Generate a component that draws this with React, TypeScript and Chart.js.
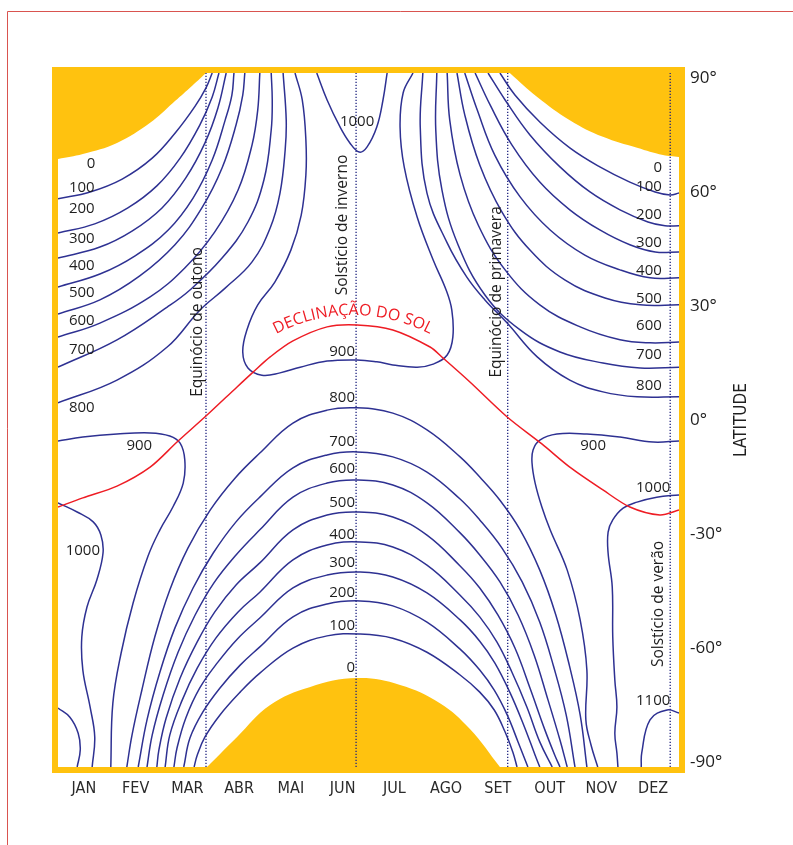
import React, { useEffect, useRef } from "react";
import { Chart, registerables } from "chart.js";

Chart.register(...registerables);

// ---------- axes ----------
const MONTHS = ["JAN", "FEV", "MAR", "ABR", "MAI", "JUN", "JUL", "AGO", "SET", "OUT", "NOV", "DEZ"];
const LAT_TICKS = [-90, -60, -30, 0, 30, 60, 90];
const X_MIN = 0;
const X_MAX = 12;
const Y_MIN = -91.3;
const Y_MAX = 91.3;

// ---------- solstices / equinoxes (x in months) ----------
const EVENT_X = [2.86, 5.76, 8.69, 11.83];
const EVENT_LABELS: [string, number, number][] = [
  ["Equinócio de outono", 2.69, 25.8],
  ["Solstício de inverno", 5.49, 51.3],
  ["Equinócio de primavera", 8.48, 33.7],
  ["Solstício de verão", 11.61, -48.4],
];

// ---------- polar night (0 isoline) ----------
const NIGHT_NW = [[0, 68.7], [0.48, 70.0], [1.14, 72.9], [1.78, 78.2], [2.22, 83.4], [2.55, 87.4], [2.86, 91.3]];
const NIGHT_NE = [[8.73, 91.3], [9.26, 85.0], [9.89, 78.9], [10.53, 74.5], [11.19, 71.6], [11.69, 69.7], [12, 69.2]];
const NIGHT_S = [[2.88, -91.3], [3.46, -83.4], [4.1, -75.0], [4.86, -70.3], [5.78, -67.9], [6.61, -69.7], [7.38, -74.5], [7.96, -81.3], [8.54, -91.3]];

// ---------- isolines, north, Jan-Mar ----------
const N_L100 = [[0, 58.2], [0.62, 60.0], [1.24, 63.4], [1.82, 68.9], [2.28, 75.8], [2.65, 82.6], [2.86, 87.4], [2.98, 91.3]];
const N_L200 = [[0, 49.2], [0.71, 51.6], [1.35, 55.8], [1.91, 61.6], [2.36, 68.9], [2.74, 77.6], [2.98, 85.0], [3.11, 91.3]];
const N_L300 = [[0, 42.6], [0.81, 45.5], [1.43, 49.7], [2.01, 55.8], [2.47, 63.7], [2.84, 72.9], [3.09, 82.1], [3.25, 91.3]];
const N_L400 = [[0, 35.0], [0.81, 38.4], [1.49, 43.2], [2.13, 50.0], [2.61, 58.4], [2.98, 68.4], [3.23, 78.9], [3.36, 85.5], [3.4, 91.3]];
const N_L500 = [[0, 27.9], [0.81, 31.6], [1.58, 37.9], [2.26, 46.1], [2.78, 55.8], [3.17, 66.3], [3.44, 77.6], [3.57, 85.5], [3.61, 91.3]];
const N_L600 = [[0, 21.8], [0.81, 25.5], [1.78, 32.4], [2.45, 40.0], [3.03, 49.5], [3.48, 60.5], [3.75, 72.4], [3.86, 81.6], [3.9, 91.3]];
const N_L700 = [[0, 13.9], [1.14, 21.1], [2.11, 29.7], [2.55, 34.2], [3.17, 42.6], [3.67, 52.1], [3.98, 63.2], [4.12, 76.3], [4.14, 84.2], [4.12, 91.3]];
const N_L800 = [[0, 4.5], [1.14, 10.5], [2.11, 19.2], [2.74, 28.9], [3.23, 34.7], [3.75, 41.6], [4.1, 50.5], [4.29, 59.7], [4.39, 71.1], [4.41, 78.9], [4.35, 91.3]];

// ---------- isolines, north summer ----------
const N_900 = [[4.58, 91.3], [4.72, 84.2], [4.79, 73.7], [4.79, 64.5], [4.7, 53.9], [4.5, 44.7], [4.19, 36.3], [3.86, 30.3], [3.65, 23.7], [3.57, 17.9], [3.67, 13.7], [3.94, 11.8], [4.29, 12.4], [4.68, 13.9], [5.2, 15.5], [5.78, 15.8], [6.16, 15.3], [6.47, 14.5], [6.94, 13.9], [7.25, 14.7], [7.52, 17.1], [7.63, 21.8], [7.61, 28.9], [7.5, 34.2], [7.25, 42.1], [6.94, 53.4], [6.69, 66.6], [6.61, 77.1], [6.67, 86.1], [6.86, 91.3]];
const N_1000 = [[5.0, 91.3], [5.2, 84.2], [5.45, 77.1], [5.64, 72.9], [5.82, 70.5], [5.97, 71.8], [6.16, 77.1], [6.28, 84.2], [6.36, 91.3]];

// ---------- isolines, north, Jul-Dec ----------
const N_R800 = [[7.05, 91.3], [7.0, 77.1], [7.13, 59.7], [7.52, 46.6], [7.9, 37.6], [8.25, 31.6], [8.68, 25.5], [9.26, 16.6], [9.89, 10.5], [10.53, 7.4], [11.19, 6.1], [12, 6.1]];
const N_R700 = [[7.32, 91.3], [7.3, 76.3], [7.42, 60.5], [7.73, 46.1], [8.25, 32.9], [8.93, 23.7], [9.7, 17.9], [10.53, 15.0], [11.25, 13.7], [12, 13.9]];
const N_R600 = [[7.52, 91.3], [7.57, 78.9], [7.77, 64.5], [8.12, 51.3], [8.64, 39.5], [9.31, 30.3], [10.09, 24.5], [10.86, 21.1], [11.44, 20.3], [12, 20.5]];
const N_R500 = [[7.71, 91.3], [7.86, 80.3], [8.15, 67.1], [8.58, 54.7], [9.12, 44.7], [9.8, 36.8], [10.57, 32.1], [11.25, 30.3], [12, 30.3]];
const N_R400 = [[7.86, 91.3], [8.1, 81.6], [8.44, 69.7], [8.93, 58.7], [9.51, 50.0], [10.18, 43.4], [10.86, 39.5], [11.44, 37.4], [12, 37.4]];
const N_R300 = [[8.06, 91.3], [8.35, 82.9], [8.77, 72.4], [9.31, 62.6], [9.89, 55.3], [10.47, 50.0], [11.05, 46.1], [11.54, 44.2], [12, 44.2]];
const N_R200 = [[8.31, 91.3], [8.64, 84.2], [9.12, 75.0], [9.7, 66.6], [10.28, 60.0], [10.86, 55.3], [11.4, 52.1], [11.73, 51.1], [12, 51.1]];
const N_R100 = [[8.54, 91.3], [8.83, 85.5], [9.31, 78.4], [9.89, 71.6], [10.47, 66.6], [11.05, 62.6], [11.54, 60.0], [11.83, 59.2], [12, 59.7]];

// ---------- isolines, tropics and south ----------
const W_900 = [[0, -5.5], [0.48, -4.5], [1.14, -3.7], [1.78, -3.4], [2.16, -4.2], [2.36, -6.1], [2.45, -10.5], [2.42, -16.6], [2.22, -22.9], [1.97, -28.9], [1.74, -35.8], [1.45, -48.2], [1.22, -61.3], [1.06, -74.5], [1.02, -91.3]];
const E_900 = [[12, -5.5], [11.5, -5.8], [10.86, -4.5], [10.22, -3.7], [9.64, -3.7], [9.31, -5.3], [9.18, -7.9], [9.16, -11.3], [9.22, -16.6], [9.35, -22.9], [9.51, -28.9], [9.84, -39.5], [10.09, -52.6], [10.22, -65.8], [10.2, -78.9], [10.3, -85.5], [10.43, -91.3]];
const W_1000 = [[0, -21.8], [0.37, -24.2], [0.68, -26.8], [0.83, -30.3], [0.87, -35.0], [0.75, -42.1], [0.56, -49.2], [0.46, -57.1], [0.48, -65.8], [0.62, -75.5], [0.71, -83.4], [0.66, -91.3]];
const E_1000 = [[12, -19.7], [11.57, -20.3], [11.19, -21.6], [10.92, -23.2], [10.72, -26.3], [10.63, -29.5], [10.63, -35.0], [10.71, -43.9], [10.72, -57.1], [10.76, -68.4], [10.8, -75.5], [10.76, -82.4], [10.8, -87.6], [10.82, -91.3]];
const W_1100 = [[0, -75.8], [0.23, -78.2], [0.39, -82.4], [0.43, -86.8], [0.37, -91.3]];
const E_1100 = [[12, -77.1], [11.77, -76.3], [11.44, -78.9], [11.28, -87.6], [11.27, -91.3]];

const S_800 = [[1.33, -91.3], [1.43, -82.9], [1.62, -71.1], [1.87, -57.1], [2.16, -44.7], [2.51, -33.7], [2.94, -23.7], [3.42, -15.3], [3.9, -8.7], [4.54, -0.8], [5.2, 2.6], [5.78, 3.2], [6.47, 1.8], [7.13, -2.6], [7.77, -9.7], [8.15, -15.0], [8.54, -21.1], [8.93, -28.9], [9.31, -39.5], [9.62, -51.3], [9.88, -64.5], [10.09, -77.6], [10.22, -91.3]];
const S_700 = [[1.55, -91.3], [1.72, -78.9], [1.97, -66.3], [2.26, -54.7], [2.61, -44.2], [3.0, -35.0], [3.44, -26.8], [3.9, -20.3], [4.54, -12.6], [5.2, -9.2], [5.78, -8.4], [6.47, -9.7], [7.13, -13.7], [7.77, -20.8], [8.15, -26.3], [8.58, -33.7], [8.97, -42.6], [9.31, -53.2], [9.58, -65.0], [9.82, -77.6], [9.99, -91.3]];
const S_600 = [[1.72, -91.3], [1.82, -82.9], [2.03, -72.4], [2.32, -61.1], [2.65, -51.3], [3.01, -42.9], [3.44, -35.5], [3.9, -28.9], [4.54, -20.3], [5.2, -16.6], [5.78, -15.8], [6.47, -17.1], [7.13, -21.8], [7.77, -29.7], [8.15, -35.5], [8.54, -42.6], [8.89, -51.3], [9.2, -61.8], [9.47, -73.7], [9.7, -84.2], [9.84, -91.3]];
const S_500 = [[1.91, -91.3], [1.95, -86.8], [2.09, -78.4], [2.36, -67.9], [2.69, -58.4], [3.03, -50.5], [3.44, -43.4], [3.9, -37.6], [4.54, -28.9], [5.2, -25.0], [5.78, -24.2], [6.47, -25.5], [7.13, -30.3], [7.77, -38.4], [8.15, -44.2], [8.5, -51.3], [8.83, -60.0], [9.12, -70.5], [9.41, -81.6], [9.6, -88.2], [9.7, -91.3]];
const S_400 = [[2.07, -91.3], [2.16, -82.9], [2.4, -73.7], [2.69, -65.3], [3.05, -57.4], [3.48, -50.5], [3.9, -45.3], [4.54, -36.8], [5.2, -32.9], [5.84, -32.1], [6.47, -33.4], [7.13, -38.2], [7.77, -46.1], [8.15, -51.8], [8.48, -58.4], [8.77, -66.3], [9.06, -75.5], [9.31, -84.7], [9.55, -91.3]];
const S_300 = [[2.24, -91.3], [2.3, -86.3], [2.47, -78.4], [2.74, -70.5], [3.09, -63.7], [3.48, -57.4], [3.9, -52.1], [4.54, -44.2], [5.2, -40.8], [5.84, -40.0], [6.47, -41.3], [7.13, -45.5], [7.77, -52.6], [8.15, -58.2], [8.44, -63.9], [8.73, -71.6], [9.0, -80.3], [9.22, -88.2], [9.31, -91.3]];
const S_200 = [[2.43, -91.3], [2.55, -83.7], [2.8, -76.8], [3.13, -70.5], [3.52, -64.5], [3.9, -59.7], [4.54, -51.8], [5.2, -48.4], [5.84, -47.6], [6.47, -48.9], [7.13, -53.2], [7.77, -60.3], [8.15, -65.8], [8.43, -71.1], [8.68, -77.6], [8.89, -84.7], [9.08, -91.3]];
const S_100 = [[2.63, -91.3], [2.69, -88.2], [2.84, -83.4], [3.13, -77.6], [3.52, -71.6], [3.9, -66.6], [4.54, -60.0], [5.2, -56.8], [5.84, -56.3], [6.47, -57.4], [7.13, -61.1], [7.77, -67.1], [8.15, -71.6], [8.43, -76.3], [8.64, -82.1], [8.79, -87.4], [8.87, -91.3]];

// ---------- solar declination ----------
const DECLINATION = [[0, -22.9], [0.48, -20.5], [1.14, -17.4], [1.78, -12.4], [2.3, -5.8], [2.88, 1.3], [3.46, 8.7], [3.77, 12.6], [4.1, 16.6], [4.54, 20.8], [5.2, 24.5], [5.78, 25.0], [6.47, 23.7], [7.19, 19.2], [7.44, 16.3], [7.96, 10.0], [8.68, 0.8], [9.35, -6.3], [9.89, -12.4], [10.53, -18.4], [11.05, -22.9], [11.63, -25.0], [12, -23.7]];

// ---------- isoline labels [text, month, latitude] ----------
const ISO_LABELS: [string, number, number][] = [
  ["0", 0.64, 67.4], ["100", 0.46, 61.1], ["200", 0.46, 55.5], ["300", 0.46, 47.6], ["400", 0.46, 40.5],
  ["500", 0.46, 33.4], ["600", 0.46, 26.1], ["700", 0.46, 18.4], ["800", 0.46, 3.2], ["900", 1.57, -6.8], ["1000", 0.48, -34.5],
  ["0", 11.59, 66.3], ["100", 11.42, 61.3], ["200", 11.42, 53.9], ["300", 11.42, 46.6], ["400", 11.42, 39.2],
  ["500", 11.42, 31.8], ["600", 11.42, 24.7], ["700", 11.42, 17.1], ["800", 11.42, 8.9], ["900", 10.34, -6.8],
  ["1000", 11.5, -17.9], ["1100", 11.5, -73.9],
  ["1000", 5.78, 78.4], ["900", 5.49, 17.9], ["800", 5.49, 5.8], ["700", 5.49, -5.8], ["600", 5.49, -12.9],
  ["500", 5.49, -21.8], ["400", 5.49, -30.3], ["300", 5.49, -37.6], ["200", 5.49, -45.5], ["100", 5.49, -54.2], ["0", 5.66, -65.3],
];

const ARC_TEXT = "DECLINAÇÃO DO SOL";
const ARC_CENTER = [5.7, -15.8];

// ---------- styles ----------
const YELLOW = "#ffc20f";
const BLUE = "#2e3192";
const RED = "#ee1c24";
const TEXT = "#1e1e1e";
const NUM_FONT = "'Open Sans', 'Noto Sans', sans-serif";
const NARROW_FONT = "'Liberation Sans Narrow', 'DejaVu Sans Condensed', 'Liberation Sans', sans-serif";

const ISOLINES = [
  N_L100, N_L200, N_L300, N_L400, N_L500, N_L600, N_L700, N_L800,
  N_900, N_1000,
  N_R800, N_R700, N_R600, N_R500, N_R400, N_R300, N_R200, N_R100,
  W_900, E_900, W_1000, E_1000, W_1100, E_1100,
  S_800, S_700, S_600, S_500, S_400, S_300, S_200, S_100,
];

const toPts = (arr: number[][]) => arr.map(([x, y]) => ({ x, y }));

const decoPlugin = {
  id: "deco",
  beforeDraw(chart: any) {
    const { ctx, width, height } = chart;
    ctx.save();
    ctx.strokeStyle = "#d9534f";
    ctx.lineWidth = 1;
    ctx.beginPath();
    ctx.moveTo(7.5, height);
    ctx.lineTo(7.5, 11.5);
    ctx.lineTo(width, 11.5);
    ctx.stroke();
    ctx.restore();
  },
  afterDatasetsDraw(chart: any) {
    const { ctx, chartArea: a } = chart;
    const xs = chart.scales.x;
    const ys = chart.scales.y;
    ctx.save();

    // isoline labels
    ctx.fillStyle = TEXT;
    ctx.font = `15px ${NUM_FONT}`;
    ctx.textAlign = "center";
    ctx.textBaseline = "middle";
    for (const [t, mx, lat] of ISO_LABELS) {
      ctx.fillText(t, xs.getPixelForValue(mx), ys.getPixelForValue(lat));
    }

    // vertical event labels
    ctx.font = `15.5px ${NUM_FONT}`;
    for (const [t, mx, lat] of EVENT_LABELS) {
      ctx.save();
      ctx.translate(xs.getPixelForValue(mx), ys.getPixelForValue(lat));
      ctx.rotate(-Math.PI / 2);
      ctx.fillText(t, 0, 0);
      ctx.restore();
    }

    // curved declination label
    ctx.fillStyle = RED;
    ctx.font = `16px ${NUM_FONT}`;
    ctx.textBaseline = "alphabetic";
    const R = 165;
    const cx = xs.getPixelForValue(ARC_CENTER[0]);
    const cy = ys.getPixelForValue(ARC_CENTER[1]);
    const chars = Array.from(ARC_TEXT);
    const w = chars.map((c) => ctx.measureText(c).width);
    const total = w.reduce((s, v) => s + v, 0);
    let acc = -total / 2;
    chars.forEach((c, i) => {
      const mid = acc + w[i] / 2;
      acc += w[i];
      const th = -Math.PI / 2 + mid / R;
      ctx.save();
      ctx.translate(cx + R * Math.cos(th), cy + R * Math.sin(th));
      ctx.rotate(th + Math.PI / 2);
      ctx.fillText(c, 0, 0);
      ctx.restore();
    });

    // yellow frame
    ctx.strokeStyle = YELLOW;
    ctx.lineWidth = 6;
    ctx.strokeRect(a.left - 3, a.top - 3, a.right - a.left + 6, a.bottom - a.top + 6);

    // axis title
    ctx.fillStyle = TEXT;
    ctx.font = `17px ${NARROW_FONT}`;
    ctx.textBaseline = "middle";
    ctx.save();
    ctx.translate(a.right + 63, ys.getPixelForValue(0));
    ctx.rotate(-Math.PI / 2);
    ctx.fillText("LATITUDE", 0, 0);
    ctx.restore();

    ctx.restore();
  },
};

export default function App() {
  const ref = useRef<HTMLCanvasElement | null>(null);

  useEffect(() => {
    if (!ref.current) return;
    const datasets: any[] = [];

    datasets.push({
      data: toPts(DECLINATION),
      borderColor: RED,
      borderWidth: 1.5,
      pointRadius: 0,
      fill: false,
      tension: 0.3,
    });

    for (const ex of EVENT_X) {
      datasets.push({
        data: [{ x: ex, y: Y_MIN }, { x: ex, y: Y_MAX }],
        borderColor: "#1f2380",
        borderWidth: 1.3,
        borderDash: [1.3, 1.7],
        pointRadius: 0,
        fill: false,
        tension: 0,
      });
    }

    for (const iso of ISOLINES) {
      datasets.push({
        data: toPts(iso),
        borderColor: BLUE,
        borderWidth: 1.5,
        pointRadius: 0,
        fill: false,
        tension: 0.4,
      });
    }

    const night = (arr: number[][], fill: string) => ({
      data: toPts(arr),
      borderColor: YELLOW,
      borderWidth: 0,
      backgroundColor: YELLOW,
      pointRadius: 0,
      fill,
      tension: 0.4,
    });
    datasets.push(night(NIGHT_NW, "end"), night(NIGHT_NE, "end"), night(NIGHT_S, "start"));

    const chart = new Chart(ref.current, {
      type: "line",
      data: { datasets },
      options: {
        animation: false,
        responsive: false,
        events: [],
        layout: { padding: { left: 58, top: 73, right: 34, bottom: 38 } },
        plugins: { legend: { display: false }, tooltip: { enabled: false } },
        scales: {
          x: {
            type: "linear",
            min: X_MIN,
            max: X_MAX,
            position: "bottom",
            grid: { display: false, drawTicks: false },
            border: { display: false },
            ticks: {
              autoSkip: false,
              maxRotation: 0,
              padding: 12,
              color: "#2a2a2a",
              font: { family: NARROW_FONT, size: 16 },
              callback: (v: any) => MONTHS[Math.floor(Number(v))] ?? "",
            },
            afterBuildTicks: (s: any) => {
              s.ticks = MONTHS.map((_, i) => ({ value: i + 0.5 }));
            },
            afterFit: (s: any) => {
              s.height = 40;
            },
          },
          y: {
            type: "linear",
            min: Y_MIN,
            max: Y_MAX,
            position: "right",
            grid: { display: false, drawTicks: false },
            border: { display: false },
            ticks: {
              padding: 11,
              color: "#1e1e1e",
              font: { family: NUM_FONT, size: 17 },
              callback: (v: any) => `${v}°`,
            },
            afterBuildTicks: (s: any) => {
              s.ticks = LAT_TICKS.map((v) => ({ value: v }));
            },
            afterFit: (s: any) => {
              s.width = 80;
            },
          },
        },
      },
      plugins: [decoPlugin],
    });
    return () => chart.destroy();
  }, []);

  return (
    <div style={{ position: "absolute", left: 0, top: 0, width: 793, height: 845, background: "#fff" }}>
      <canvas ref={ref} width={793} height={845} style={{ width: 793, height: 845, display: "block" }} />
    </div>
  );
}
